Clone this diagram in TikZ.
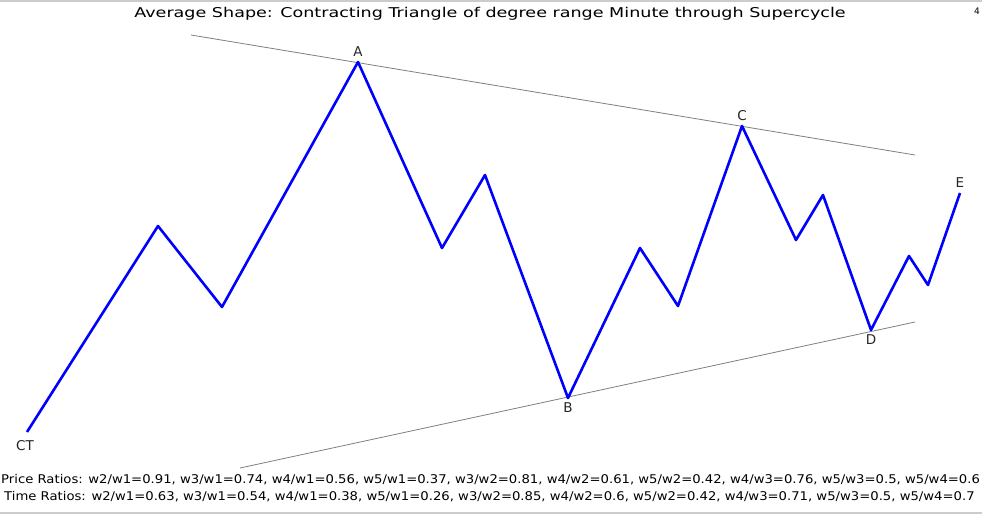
\documentclass[tikz,border=0pt]{standalone}
\usepackage{fontspec}
\setmainfont{DejaVu Sans}
\newfontfamily\titlefont[FakeStretch=1.3]{DejaVu Sans}
\newfontfamily\ratiofont[FakeStretch=1.1]{DejaVu Sans}
\usetikzlibrary{positioning}

\begin{document}
\begin{tikzpicture}[x=1pt,y=-1pt,node distance=1pt,
    wave/.style={draw=blue,line width=2.6pt,line join=round},
    trend/.style={draw=black!50,line width=0.8pt},
    frame line/.style={draw=black!20,line width=2pt},
    wave label/.style={font=\fontsize{13.5}{13.5}\selectfont,inner sep=1pt,text=black!85},
    ratio text/.style={anchor=west,inner sep=0pt,font=\ratiofont\fontsize{12}{12}\selectfont}]
  \useasboundingbox (0,0) rectangle (982,516);
  \fill[white] (0,0) rectangle (982,516);
  \draw[frame line] (0,1) -- (982,1);
  \draw[frame line] (0,513) -- (982,513);

  % wave points
  \coordinate (ct) at (27,432);
  \coordinate (w1) at (158,226);
  \coordinate (w2) at (222,307);
  \coordinate (a) at (358,62);
  \coordinate (a1) at (442,248);
  \coordinate (a2) at (485,175);
  \coordinate (b) at (568,398);
  \coordinate (b1) at (640,248);
  \coordinate (b2) at (678,306);
  \coordinate (c) at (742,126);
  \coordinate (c1) at (796,240);
  \coordinate (c2) at (823,195);
  \coordinate (d) at (871,330);
  \coordinate (d1) at (909,256);
  \coordinate (d2) at (928,285);
  \coordinate (e) at (960,193);

  % trend lines
  \coordinate (up1) at (191,35);
  \coordinate (up2) at (915,155);
  \coordinate (lo1) at (240,468);
  \coordinate (lo2) at (915,322);
  \draw[trend] (up1) -- (up2);
  \draw[trend] (lo1) -- (lo2);

  \draw[wave] (ct) -- (w1) -- (w2) -- (a) -- (a1) -- (a2) -- (b) -- (b1) -- (b2)
    -- (c) -- (c1) -- (c2) -- (d) -- (d1) -- (d2) -- (e);

  \node[wave label, above=4pt of a] (la) {A};
  \node[wave label, below=3pt of b] (lb) {B};
  \node[wave label, above=4pt of c] (lc) {C};
  \node[wave label, below=3pt of d] (ld) {D};
  \node[wave label, above=4pt of e] (le) {E};
  \node[wave label, below left=7pt and -8pt of ct] (lct) {CT};

  \node[font=\titlefont\fontsize{13.5}{13.5}\selectfont] (title) at (490,14)
    {Average Shape: Contracting Triangle of degree range Minute through Supercycle};
  \node[font=\fontsize{9}{9}\selectfont] (num) at (977,11) {4};

  \node[ratio text] (price) at (1,480)
    {Price Ratios: w2/w1=0.91, w3/w1=0.74, w4/w1=0.56, w5/w1=0.37, w3/w2=0.81, w4/w2=0.61, w5/w2=0.42, w4/w3=0.76, w5/w3=0.5, w5/w4=0.6};
  \node[ratio text] (time) at (4,497)
    {Time Ratios: w2/w1=0.63, w3/w1=0.54, w4/w1=0.38, w5/w1=0.26, w3/w2=0.85, w4/w2=0.6, w5/w2=0.42, w4/w3=0.71, w5/w3=0.5, w5/w4=0.7};
\end{tikzpicture}
\end{document}
